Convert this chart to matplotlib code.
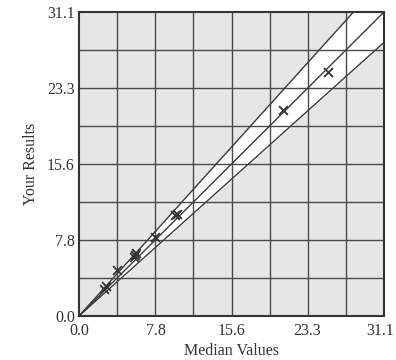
import matplotlib.pyplot as plt
import matplotlib.transforms as mtransforms
import numpy as np

# Wertepaare: Median gegen eigene Ergebnisse
median_values = [2.55, 2.75, 3.85, 5.6, 5.7, 5.8, 7.75, 9.8, 10.0, 20.8, 25.4]
your_results = [2.8, 3.05, 4.7, 6.0, 6.2, 6.4, 8.1, 10.3, 10.4, 21.1, 25.0]

axis_max = 31.1
tick_values = [0.0, 7.8, 15.6, 23.3, 31.1]
band_low = 0.9        # untere Grenze: 90 % des Medians
band_high = 1 / 0.9   # obere Grenze

plt.rcParams['font.family'] = ['Liberation Serif', 'DejaVu Serif']

fig = plt.figure(figsize=(3.96, 3.6), dpi=100)
ax = fig.add_axes([79 / 396, 44 / 360, 305 / 396, 304 / 360])
ax.set_facecolor('#e6e6e6')

# Toleranzband weiss hinterlegen
xs = np.linspace(0, axis_max, 200)
ax.fill_between(xs, band_low * xs, band_high * xs, color='white', zorder=1)

# Gitter alle 1/8 des Bereichs
grid = np.linspace(0, axis_max, 9)
for g in grid[1:-1]:
    ax.axvline(g, color='#4a4a4a', lw=1.0, zorder=2)
    ax.axhline(g, color='#4a4a4a', lw=1.0, zorder=2)

for k in (band_low, 1.0, band_high):
    ax.plot(xs, k * xs, color='#3a3a3a', lw=1.0, zorder=3)

ax.scatter(median_values, your_results, marker='x', s=40, color='#333333',
           linewidths=1.3, zorder=4)

ax.set_xlim(0, axis_max)
ax.set_ylim(0, axis_max)
ax.set_xticks(tick_values)
ax.set_yticks(tick_values)
ax.set_xticklabels([f'{v:.1f}' for v in tick_values])
ax.set_yticklabels([f'{v:.1f}' for v in tick_values])
ax.tick_params(length=0, labelsize=11.5, colors='#333333')
ax.tick_params(axis='x', pad=5)
ax.tick_params(axis='y', pad=3)

# letztes x-Label etwas nach links, damit es nicht am Rand abgeschnitten wird
last = ax.get_xticklabels()[-1]
last.set_transform(last.get_transform()
                   + mtransforms.ScaledTranslation(-4 / 100, 0, fig.dpi_scale_trans))

for s in ax.spines.values():
    s.set_linewidth(1.5)
    s.set_color('#333333')
    s.set_zorder(5)

ax.set_xlabel('Median Values', fontsize=11.5, color='#333333', labelpad=3)
ax.set_ylabel('Your Results', fontsize=11.5, color='#333333', labelpad=6)

fig.savefig('out.png', dpi=100)
